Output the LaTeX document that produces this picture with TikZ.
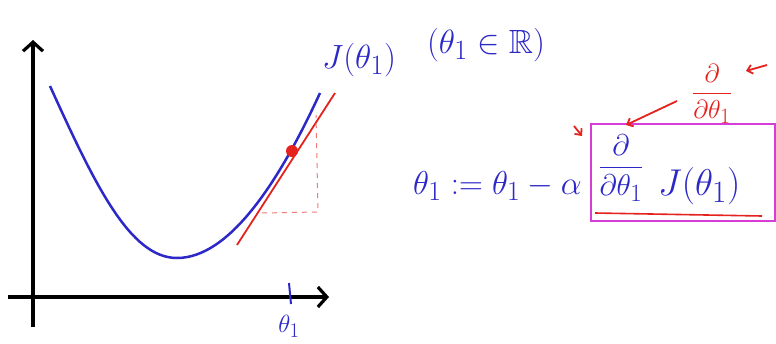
\documentclass[tikz,border=0pt]{standalone}
\usepackage{amsmath,amssymb}
\usepackage{graphicx}
\usetikzlibrary{arrows.meta}
\definecolor{pen}{RGB}{45,40,200}
\definecolor{redpen}{RGB}{228,35,30}
\definecolor{boxc}{RGB}{214,60,214}
\newcommand{\hw}[2]{\scalebox{#1}{#2}}
\tikzset{
  axis/.style={line width=3.6pt,-{Straight Barb[length=9pt,width=20pt,line width=3.2pt]}},
  bluetxt/.style={text=pen,inner sep=0pt,font=\fontsize{24.88}{27}\selectfont},
  redtxt/.style={text=redpen,inner sep=0pt,font=\fontsize{24.88}{27}\selectfont},
  curve/.style={pen,line width=2.5pt},
  tangent/.style={redpen,line width=1.8pt},
  guide/.style={redpen!60,line width=1pt,dash pattern=on 5pt off 5pt},
  redarrow/.style={redpen,line width=1.8pt,-{Straight Barb[length=5pt,width=9pt]}}
}
\begin{document}
\begin{tikzpicture}[x=1pt,y=-1pt]
\useasboundingbox (0,0) rectangle (776,343);
\fill[white] (0,0) rectangle (776,343);
% axes
\coordinate (ybot) at (33,327);
\coordinate (ytop) at (33,40);
\coordinate (xl) at (8,297);
\coordinate (xr) at (329,297);
\draw[axis] (ybot) -- (ytop);
\draw[axis] (xl) -- (xr);
% tick and label
\coordinate (tk1) at (289,283);
\coordinate (tk2) at (291,304);
\draw[pen,line width=2pt] (tk1) -- (tk2);
\node[bluetxt] (thlab) at (289,326) {$\theta_1$};
% curve
\coordinate (c0) at (50,86);
\coordinate (cmin) at (177,258);
\coordinate (c3) at (320,93);
\draw[curve] (c0) .. controls (95,185) and (130,258) .. (cmin)
                  .. controls (230,258) and (280,180) .. (c3);
% tangent
\coordinate (ta) at (237,245);
\coordinate (tb) at (335,93);
\draw[tangent] (ta) -- (tb);
% dashed triangle
\coordinate (d1) at (262,213);
\coordinate (d2) at (318,212);
\coordinate (d3) at (316,115);
\draw[guide] (d1) -- (d2) -- (d3);
% point
\node[circle,fill=redpen,inner sep=0pt,minimum size=12pt] (pt) at (292,151) {};
% labels
\node[bluetxt] (Jlab) at (359,60) {\hw{1.35}{$J(\theta_1)$}};
\node[bluetxt] (dom) at (486,45) {\hw{1.35}{$(\theta_1\in\mathbb{R})$}};
% equation
\node[bluetxt,anchor=east] (lhs) at (582,186) {\hw{1.33}{$\theta_1 := \theta_1 - \alpha$}};
\node[bluetxt] (frac) at (621,168) {\hw{1.2}{$\dfrac{\partial}{\partial\theta_1}$}};
\node[bluetxt,anchor=west] (Jt) at (658,186) {\hw{1.5}{$J(\theta_1)$}};
\node[draw=boxc,line width=2pt,minimum width=184pt,minimum height=97pt,inner sep=0pt] (box) at (683,172) {};
\coordinate (u1) at (595,213);
\coordinate (u2) at (762,216);
\draw[redpen,line width=1.6pt] (u1) -- (u2);
% red partial
\node[redtxt] (rfrac) at (712,94) {\hw{1.05}{$\dfrac{\partial}{\partial\theta_1}$}};
\coordinate (la) at (767,65);
\coordinate (lb) at (746,71);
\draw[redarrow] (la) -- (lb);
\coordinate (aa) at (677,101);
\coordinate (ab) at (626,125);
\draw[redarrow] (aa) -- (ab);
\coordinate (sa) at (574,126);
\coordinate (sb) at (582,136);
\draw[redarrow] (sa) -- (sb);
\end{tikzpicture}
\end{document}
